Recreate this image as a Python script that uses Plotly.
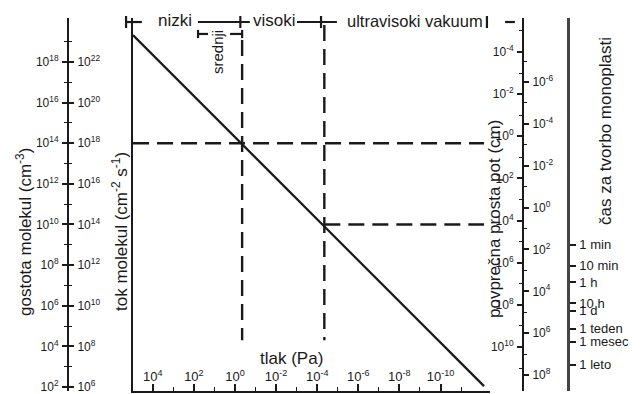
import math
import plotly.graph_objects as go

W, H = 641, 394

# ---------------- data ----------------
# diagonal: gas density versus pressure
pressure_diag = [9.2e4, 7.6e-13]          # Pa
density_diag = [2.1e19, 1.1e2]            # cm^-3

# dashed guide lines
p_mark = [0.45, 4.5e-5]                   # Pa (vertical dashed)
n_mark = [1e14, 1e10]                     # cm^-3 (horizontal dashed)
p_dash_start = 9.2e4
p_dash_end = 7.6e-13
n_vert_top = [1.2e19, 6.6e19]
n_vert_bottom = 2.0e4

# axis tick exponents
x_major = [4, 2, 0, -2, -4, -6, -8, -10]
x_minor = [3, 1, -1, -3, -5, -7, -9, -11]
dens_major = [18, 16, 14, 12, 10, 8, 6, 4, 2]
dens_minor = [19, 17, 15, 13, 11, 9, 7, 5, 3]
flux_offset = 4
mfp_major = [-4, -2, 0, 2, 4, 6, 8, 10]
mfp_minor = [-5, -3, -1, 1, 3, 5, 7, 9, 11]
tsec_major = [-6, -4, -2, 0, 2, 4, 6, 8]
tsec_minor = [-7, -5, -3, -1, 1, 3, 5, 7]

# named monolayer formation times (s)
time_vals = [60, 600, 3600, 36000, 86400, 604800, 2.6e6, 3.15e7]
time_text = ["1 min", "10 min", "1 h", "10 h", "1 d", "1 teden", "1 mesec", "1 leto"]

# vacuum range bracket (Pa)
bracket_segments = [(2.0e5, 3.4e4), (63, 0.19), (9.6e-4, 1.1e-5), (7.2e-14, 2.4e-14)]
bracket_ticks = [2.0e5, 0.55, 6.5e-5, 5.5e-13]
bracket_level = 9.3e19
bracket_tick_span = (1.84e20, 4.7e19)
sred_segments = [(63, 20.6), (1.75, 0.45)]
sred_ticks = [63, 0.45]
sred_level = 2.4e19
sred_tick_span = (3.8e19, 1.5e19)

FONT = "Liberation Sans, Arial, Helvetica, sans-serif"
INK = "#1a1a1a"


def sup(e):
    return f"10<sup>{e}</sup>"


fig = go.Figure()

# main diagonal
fig.add_trace(go.Scatter(x=pressure_diag, y=density_diag, mode="lines",
                         line=dict(color=INK, width=2.2), xaxis="x", yaxis="y",
                         showlegend=False, hoverinfo="skip"))

dash = "16px,8px"
# horizontal dashed lines
fig.add_trace(go.Scatter(x=[p_dash_start, p_dash_end], y=[n_mark[0], n_mark[0]], mode="lines",
                         line=dict(color=INK, width=2.4, dash=dash), showlegend=False, hoverinfo="skip"))
fig.add_trace(go.Scatter(x=[p_mark[1], p_dash_end], y=[n_mark[1], n_mark[1]], mode="lines",
                         line=dict(color=INK, width=2.4, dash=dash), showlegend=False, hoverinfo="skip"))
# vertical dashed lines
for p, top in zip(p_mark, n_vert_top):
    fig.add_trace(go.Scatter(x=[p, p], y=[top, n_vert_bottom], mode="lines",
                             line=dict(color=INK, width=2.4, dash=dash), showlegend=False, hoverinfo="skip"))

# dummy traces so that the free axes are drawn
for ya in ["y2", "y3", "y4", "y5", "y6"]:
    fig.add_trace(go.Scatter(x=[None], y=[None], xaxis="x", yaxis=ya, showlegend=False, hoverinfo="skip"))

# bracket traces on a full-canvas overlay (same pressure / density scales)
bx, by = [], []
for a, b in bracket_segments:
    bx += [a, b, None]
    by += [bracket_level, bracket_level, None]
for t in bracket_ticks:
    bx += [t, t, None]
    by += [bracket_tick_span[0], bracket_tick_span[1], None]
for a, b in sred_segments:
    bx += [a, b, None]
    by += [sred_level, sred_level, None]
for t in sred_ticks:
    bx += [t, t, None]
    by += [sred_tick_span[0], sred_tick_span[1], None]
fig.add_trace(go.Scatter(x=bx, y=by, mode="lines", line=dict(color=INK, width=2.2),
                         xaxis="x2", yaxis="y7", showlegend=False, hoverinfo="skip"))

# ---------------- layout ----------------
ydom = [3 / H, 376 / H]
px_per_dec_x = 20.55
x_zero_px = 235
x_range = [(x_zero_px - 133) / px_per_dec_x, (x_zero_px - 490) / px_per_dec_x]
x2_range = [(x_zero_px - 0) / px_per_dec_x, (x_zero_px - W) / px_per_dec_x]

d_ppd = 20.31
d_ref_px, d_ref = 62, 18
dens_range = [d_ref - (391 - d_ref_px) / d_ppd, d_ref + (d_ref_px - 18) / d_ppd]
dens_full = [d_ref - (H - d_ref_px) / d_ppd, d_ref + d_ref_px / d_ppd]
flux_range = [v + flux_offset for v in dens_range]

m_ppd, m_ref_px, m_ref = 21.07, 52, -4
mfp_range = [m_ref + (391 - m_ref_px) / m_ppd, m_ref - (m_ref_px - 18) / m_ppd]

t_ppd, t_ref_px, t_ref = 20.93, 82, -6
tsec_range = [t_ref + (391 - t_ref_px) / t_ppd, t_ref - (t_ref_px - 18) / t_ppd]

tickfont = dict(family=FONT, size=12, color=INK)


def free_axis(pos, side, rng, major, minor, labels, ticklen=5):
    return dict(type="log", overlaying="y", anchor="free", position=pos, side=side,
                range=rng, showline=True, linecolor=INK, linewidth=2, automargin=False,
                ticks="outside", ticklen=ticklen, tickwidth=1.5, tickcolor=INK,
                tickmode="array", tickvals=[10.0 ** e for e in major], ticktext=labels,
                minor=dict(tickmode="array", tickvals=[10.0 ** e for e in minor],
                           ticks="outside", ticklen=3, tickwidth=1.2, tickcolor=INK),
                showgrid=False, zeroline=False, tickfont=tickfont, ticklabelstandoff=1,
                ticklabeloverflow="allow")


fig.update_layout(
    width=W, height=H, margin=dict(l=0, r=0, t=0, b=0, autoexpand=False),
    paper_bgcolor="white", plot_bgcolor="rgba(0,0,0,0)",
    font=dict(family=FONT, color=INK),
    showlegend=False,
    xaxis=dict(type="log", domain=[133 / W, 490 / W], range=x_range, anchor="y",
               automargin=False,
               showline=True, linecolor=INK, linewidth=2,
               ticks="inside", ticklen=7, tickwidth=1.5, tickcolor=INK,
               tickmode="array", tickvals=[10.0 ** e for e in x_major],
               ticktext=[sup(e) for e in x_major], ticklabelposition="inside",
               ticklabeloverflow="allow",
               minor=dict(tickmode="array", tickvals=[10.0 ** e for e in x_minor],
                          ticks="inside", ticklen=4, tickwidth=1.2, tickcolor=INK),
               showgrid=False, zeroline=False, tickfont=dict(family=FONT, size=13, color=INK)),
    yaxis=dict(type="log", domain=ydom, range=dens_range, anchor="x", automargin=False,
               showline=True, linecolor=INK, linewidth=2.2, ticks="",
               showticklabels=False, showgrid=False, zeroline=False),
    yaxis2=free_axis(68 / W, "left", dens_range, dens_major, dens_minor,
                     [sup(e) for e in dens_major]),
    yaxis3=free_axis(68 / W, "right", flux_range, [e + flux_offset for e in dens_major],
                     [e + flux_offset for e in dens_minor],
                     [sup(e + flux_offset) for e in dens_major]),
    yaxis4=free_axis(523 / W, "left", mfp_range, mfp_major, mfp_minor,
                     [sup(e) for e in mfp_major]),
    yaxis5=free_axis(523 / W, "right", tsec_range, tsec_major, tsec_minor,
                     [sup(e) for e in tsec_major]),
    yaxis6=dict(type="log", overlaying="y", anchor="free", position=568 / W, side="right",
                range=tsec_range, showline=True, linecolor="#444", linewidth=2.5,
                automargin=False, ticklabeloverflow="allow",
                ticks="outside", ticklen=6, tickwidth=1.8, tickcolor=INK,
                tickmode="array", tickvals=time_vals, ticktext=time_text,
                showgrid=False, zeroline=False,
                tickfont=dict(family=FONT, size=13, color=INK), ticklabelstandoff=1),
    xaxis2=dict(type="log", domain=[0, 1], range=x2_range, anchor="y7", visible=False,
                automargin=False),
    yaxis7=dict(type="log", domain=[0, 1], range=dens_full, anchor="x2", visible=False,
                automargin=False),
)


def ann(text, px, py, size=17, angle=0):
    fig.add_annotation(text=text, x=px / W, y=1 - py / H, xref="paper", yref="paper",
                       showarrow=False, textangle=angle, xanchor="center", yanchor="middle",
                       font=dict(family=FONT, size=size, color=INK))


ann("nizki", 175, 21)
ann("visoki", 274, 21)
ann("ultravisoki vakuum", 415, 21, size=16.5)
ann("srednji", 218, 52, size=15, angle=-90)
ann("tlak (Pa)", 291, 358)
ann("gostota molekul (cm<sup>-3</sup>)", 24, 232, angle=-90)
ann("tok molekul (cm<sup>-2</sup> s<sup>-1</sup>)", 120, 232, angle=-90)
ann("povprečna prosta pot (cm)", 495, 219, angle=-90)
ann("čas za tvorbo monoplasti", 605, 131, angle=-90)

fig.write_html("out.html", config={"displayModeBar": False},
               post_script="document.body.style.margin='0';document.body.style.padding='0';")
